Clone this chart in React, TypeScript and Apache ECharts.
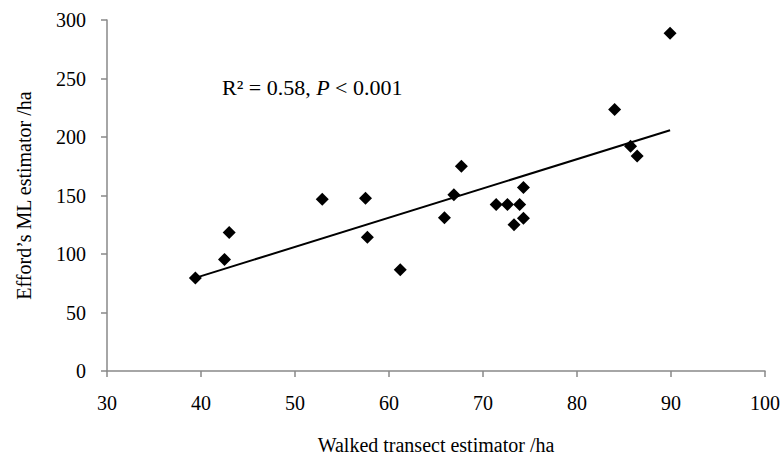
import React, { useEffect, useRef } from "react";
import * as echarts from "echarts";

const walked: number[] = [39.4, 42.5, 43.0, 52.9, 57.5, 57.7, 61.2, 65.9, 66.9, 67.7, 71.4, 72.6, 73.9, 73.3, 74.3, 74.3, 84.0, 85.7, 86.4, 89.9];
const efford: number[] = [79.5, 95.4, 118.3, 146.9, 147.7, 114.3, 86.6, 130.9, 150.6, 175.1, 142.3, 142.3, 142.3, 125.1, 130.6, 156.9, 223.4, 192.0, 183.7, 288.6];
const xTitle = "Walked transect estimator /ha";
const yTitle = "Efford\u2019s ML estimator /ha";

const FONT = "'Liberation Serif', 'Times New Roman', serif";

function regression(xs: number[], ys: number[]) {
  const n = xs.length;
  const mx = xs.reduce((a, b) => a + b, 0) / n;
  const my = ys.reduce((a, b) => a + b, 0) / n;
  let sxy = 0, sxx = 0;
  for (let i = 0; i < n; i++) {
    sxy += (xs[i] - mx) * (ys[i] - my);
    sxx += (xs[i] - mx) * (xs[i] - mx);
  }
  const slope = sxy / sxx;
  return { slope, intercept: my - slope * mx };
}

export default function App() {
  const ref = useRef<HTMLDivElement>(null);
  useEffect(() => {
    document.body.style.margin = "0";
    if (!ref.current) return;
    const chart = echarts.init(ref.current, null, { renderer: "svg" });
    const { slope, intercept } = regression(walked, efford);
    const x0 = Math.min(...walked);
    const x1 = Math.max(...walked);
    const axisColor = "#898989";
    chart.setOption({
      animation: false,
      backgroundColor: "#fff",
      grid: { left: 107, right: 17, top: 20, bottom: 89, containLabel: false },
      title: {
        left: 222,
        top: 76,
        padding: 0,
        text: "{n|R\u00B2 = 0.58, }{i|P}{n| < 0.001}",
        textStyle: {
          rich: {
            n: { fontFamily: FONT, fontSize: 22, color: "#000", fontWeight: "normal" },
            i: { fontFamily: FONT, fontSize: 22, color: "#000", fontStyle: "italic", fontWeight: "normal" },
          },
        },
      },
      xAxis: {
        type: "value",
        min: 30,
        max: 100,
        interval: 10,
        splitLine: { show: false },
        axisLine: { lineStyle: { color: axisColor, width: 1.5 } },
        axisTick: { show: true, inside: false, length: 6, lineStyle: { color: axisColor, width: 1.5 } },
        axisLabel: { margin: 22, fontFamily: FONT, fontSize: 20, color: "#000" },
        name: xTitle,
        nameLocation: "middle",
        nameGap: 64,
        nameTextStyle: { fontFamily: FONT, fontSize: 20, color: "#000" },
      },
      yAxis: {
        type: "value",
        min: 0,
        max: 300,
        interval: 50,
        splitLine: { show: false },
        axisLine: { show: true, lineStyle: { color: axisColor, width: 1.5 } },
        axisTick: { show: true, inside: false, length: 6, lineStyle: { color: axisColor, width: 1.5 } },
        axisLabel: { margin: 21, fontFamily: FONT, fontSize: 20, color: "#000" },
        name: yTitle,
        nameLocation: "middle",
        nameGap: 73,
        nameTextStyle: { fontFamily: FONT, fontSize: 20, color: "#000" },
      },
      series: [
        {
          type: "scatter",
          data: walked.map((x, i) => [x, efford[i]]),
          symbol: "diamond",
          symbolSize: 13,
          itemStyle: { color: "#000", opacity: 1 },
          z: 3,
        },
        {
          type: "line",
          data: [
            [x0, intercept + slope * x0],
            [x1, intercept + slope * x1],
          ],
          symbol: "none",
          lineStyle: { color: "#000", width: 2 },
          z: 2,
        },
      ],
    });
    return () => chart.dispose();
  }, []);
  return <div ref={ref} style={{ width: 783, height: 460 }} />;
}
